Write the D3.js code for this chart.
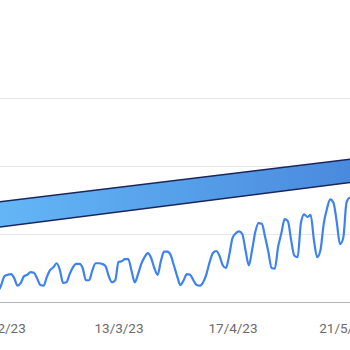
<!DOCTYPE html>
<html>
<head>
<meta charset="utf-8">
<script src="https://cdn.jsdelivr.net/npm/d3@7"></script>
<style>
  html, body { margin: 0; padding: 0; background: #fff; }
  svg { display: block; }
</style>
</head>
<body>
<svg id="chart" width="350" height="350"></svg>
<script>
// daily series, first day and values
const startDate = "2023-02-04";
const dailyValues = [
  15, 25, 38, 40, 41, 35, 24, 28, 38, 40,
  44, 43, 35, 25, 24, 37, 47, 51, 57, 47,
  28, 29, 41, 51, 56, 56, 50, 32, 32, 47,
  57, 57, 56, 53, 38, 29, 32, 59, 60, 63,
  63, 46, 29, 41, 56, 66, 72, 65, 50, 40,
  60, 74, 74, 69, 54, 38, 25, 32, 41, 40,
  32, 25, 24, 29, 41, 59, 72, 75, 68, 54,
  50, 69, 94, 101, 104, 100, 76, 54, 76, 103,
  116, 115, 96, 74, 50, 49, 81, 101, 122, 119,
  91, 68, 66, 116, 129, 125, 128, 91, 66, 76,
  115, 137, 151, 146, 118, 85, 94, 146, 153, 153,
  150
];

// trend band
const trendDates = ["2023-02-04", "2023-05-25"];
const trendUpper = [147, 211];
const trendLower = [110, 177];

// axes
const tickDates = ["2023-02-06", "2023-03-13", "2023-04-17", "2023-05-21"];
const gridValues = [100, 200, 300];

const chart = {

  width: 350,
  height: 350,

  scales: {
    x: null,
    y: null
  },

  build: function() {

    const parse = d3.utcParse("%Y-%m-%d");

    chart.scales.x = d3.scaleUtc()
      .domain([parse("2023-02-06"), parse("2023-04-17")])
      .range([4.5, 232.5]);

    chart.scales.y = d3.scaleLinear()
      .domain([0, 300])
      .range([302, 98]);

    const t0 = parse(startDate);
    chart.series = dailyValues.map((v, i) => ({ date: d3.utcDay.offset(t0, i), value: v }));
    chart.band = trendDates.map((d, i) => ({ date: parse(d), hi: trendUpper[i], lo: trendLower[i] }));
    chart.ticks = tickDates.map(parse);
  },

  render: function() {

    const x = chart.scales.x;
    const y = chart.scales.y;
    const svg = d3.select("svg#chart");

    // gridlines
    svg.append("g")
      .selectAll("line")
      .data(gridValues)
      .join("line")
      .attr("x1", 0)
      .attr("x2", chart.width)
      .attr("y1", d => Math.round(y(d)) + 0.5)
      .attr("y2", d => Math.round(y(d)) + 0.5)
      .attr("stroke", "#e6e6e6")
      .attr("stroke-width", 1);

    // gradient for the trend band
    const grad = svg.append("defs")
      .append("linearGradient")
      .attr("id", "bandGrad")
      .attr("gradientUnits", "userSpaceOnUse")
      .attr("x1", 0).attr("x2", chart.width)
      .attr("y1", 0).attr("y2", 0);
    grad.append("stop").attr("offset", "0%").attr("stop-color", "#63b6f6");
    grad.append("stop").attr("offset", "100%").attr("stop-color", "#4a8ade");

    const area = d3.area()
      .x(d => x(d.date))
      .y0(d => y(d.lo))
      .y1(d => y(d.hi));

    svg.append("path")
      .datum(chart.band)
      .attr("d", area)
      .attr("fill", "url(#bandGrad)");

    ["hi", "lo"].forEach(k => {
      svg.append("path")
        .datum(chart.band)
        .attr("d", d3.line().x(d => x(d.date)).y(d => y(d[k])))
        .attr("fill", "none")
        .attr("stroke", "#1b2559")
        .attr("stroke-width", 1.6);
    });

    // baseline
    svg.append("line")
      .attr("x1", 0)
      .attr("x2", chart.width)
      .attr("y1", y(0) + 0.5)
      .attr("y2", y(0) + 0.5)
      .attr("stroke", "#b5b5b5")
      .attr("stroke-width", 1);

    // series
    svg.append("path")
      .datum(chart.series)
      .attr("d", d3.line()
        .x(d => x(d.date))
        .y(d => y(d.value))
        .curve(d3.curveMonotoneX))
      .attr("fill", "none")
      .attr("stroke", "#3d82f0")
      .attr("stroke-width", 2.2)
      .attr("stroke-linejoin", "round");

    // x axis labels
    const fmt = d3.utcFormat("%-d/%-m/%y");
    const axis = svg.append("g")
      .attr("transform", `translate(0, ${y(0)})`)
      .call(d3.axisBottom(x).tickValues(chart.ticks).tickFormat(fmt).tickSize(0).tickPadding(21));
    axis.select(".domain").remove();
    axis.selectAll("text")
      .attr("fill", "#6b6b6b")
      .attr("font-family", "Roboto, sans-serif")
      .attr("font-size", 13.5);
  }
};

chart.build();
chart.render();
</script>
</body>
</html>
